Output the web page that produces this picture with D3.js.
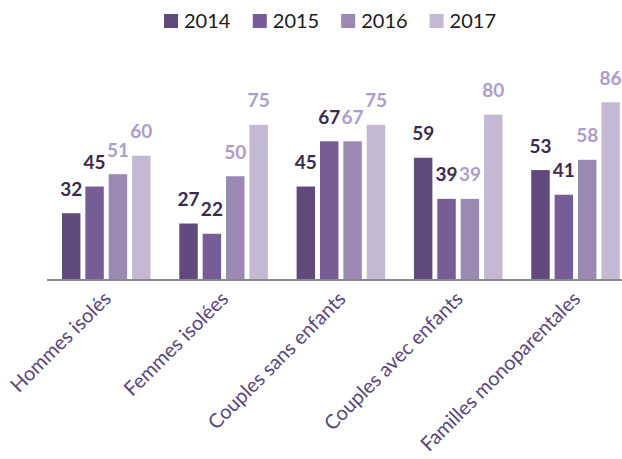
<!doctype html>
<html lang="fr">
<head>
<meta charset="utf-8">
<style>
  body { margin: 0; background: #fff; }
  svg { display: block; font-family: Lato, "Open Sans", sans-serif; }
  .axis-line { stroke: #898989; stroke-width: 2px; }
  .cat-label { fill: #5a4677; font-size: 20px; font-family: Lato, "Open Sans", sans-serif; }
  .val-label { font-size: 19px; font-weight: bold; }
  .legend text { font-size: 20px; fill: #1a1a1a; }
</style>
<script src="https://d3js.org/d3.v7.min.js"></script>
</head>
<body>
<svg width="622" height="459"></svg>
<script>
  // data
  const categories = ["Hommes isolés", "Femmes isolées", "Couples sans enfants", "Couples avec enfants", "Familles monoparentales"];
  const years = ["2014", "2015", "2016", "2017"];
  const v2014 = [32, 27, 45, 59, 53];
  const v2015 = [45, 22, 67, 39, 41];
  const v2016 = [51, 50, 67, 39, 58];
  const v2017 = [60, 75, 75, 80, 86];
  const series = [v2014, v2015, v2016, v2017];

  const barColors = ["#5f4a7b", "#775d96", "#9b89b4", "#c4b9d3"];
  const labelColors = ["#3b2b4e", "#3b2b4e", "#ad9dcb", "#ad9dcb"];

  const svg = d3.select("svg");
  const baseY = 279;

  const x0 = d3.scaleBand().domain(categories).range([47.6, 634.2]).paddingInner(0.245).paddingOuter(0.1225);
  const x1 = d3.scaleBand().domain(years).range([0, x0.bandwidth()]).paddingInner(0.21);
  const y = d3.scaleLinear().domain([0, 100]).range([baseY, 73.5]);

  const rows = [];
  categories.forEach((c, i) => {
    years.forEach((yr, j) => rows.push({ cat: c, year: yr, j: j, value: series[j][i] }));
  });

  const g = svg.append("g");
  g.selectAll("rect.bar")
    .data(rows)
    .join("rect")
    .attr("class", "bar")
    .attr("x", d => x0(d.cat) + x1(d.year))
    .attr("y", d => y(d.value))
    .attr("width", x1.bandwidth())
    .attr("height", d => y(0) - y(d.value))
    .attr("fill", d => barColors[d.j]);

  g.selectAll("text.val-label")
    .data(rows)
    .join("text")
    .attr("class", "val-label")
    .attr("x", d => x0(d.cat) + x1(d.year) + x1.bandwidth() / 2)
    .attr("y", d => y(d.value) - 17.5)
    .attr("text-anchor", "middle")
    .attr("fill", d => labelColors[d.j])
    .text(d => d.value);

  // x axis
  const xAxis = svg.append("g").attr("transform", `translate(0,${baseY + 1})`)
    .call(d3.axisBottom(x0).tickSize(0).tickPadding(0))
    .attr("font-family", null).attr("font-size", null);
  xAxis.select(".domain").remove();
  svg.append("line").attr("class", "axis-line")
    .attr("x1", 47).attr("x2", 622).attr("y1", baseY + 1).attr("y2", baseY + 1);
  xAxis.selectAll(".tick text")
    .attr("class", "cat-label")
    .attr("fill", null)
    .attr("text-anchor", "end")
    .attr("x", 0).attr("y", 0).attr("dy", null)
    .attr("transform", "translate(6,20) rotate(-45)");

  // legend
  const legend = svg.append("g").attr("class", "legend");
  const items = legend.selectAll("g").data(years).join("g");
  items.append("rect").attr("width", 14).attr("height", 14).attr("y", 14)
    .attr("fill", (d, i) => barColors[i]);
  items.append("text").attr("x", 20).attr("y", 28).text(d => d);
  let lx = 0;
  items.each(function () {
    const w = this.getBBox().width;
    d3.select(this).attr("transform", `translate(${lx},0)`);
    lx += w + 22;
  });
  const total = lx - 22;
  legend.attr("transform", `translate(${330 - total / 2},0)`);
</script>
</body>
</html>
